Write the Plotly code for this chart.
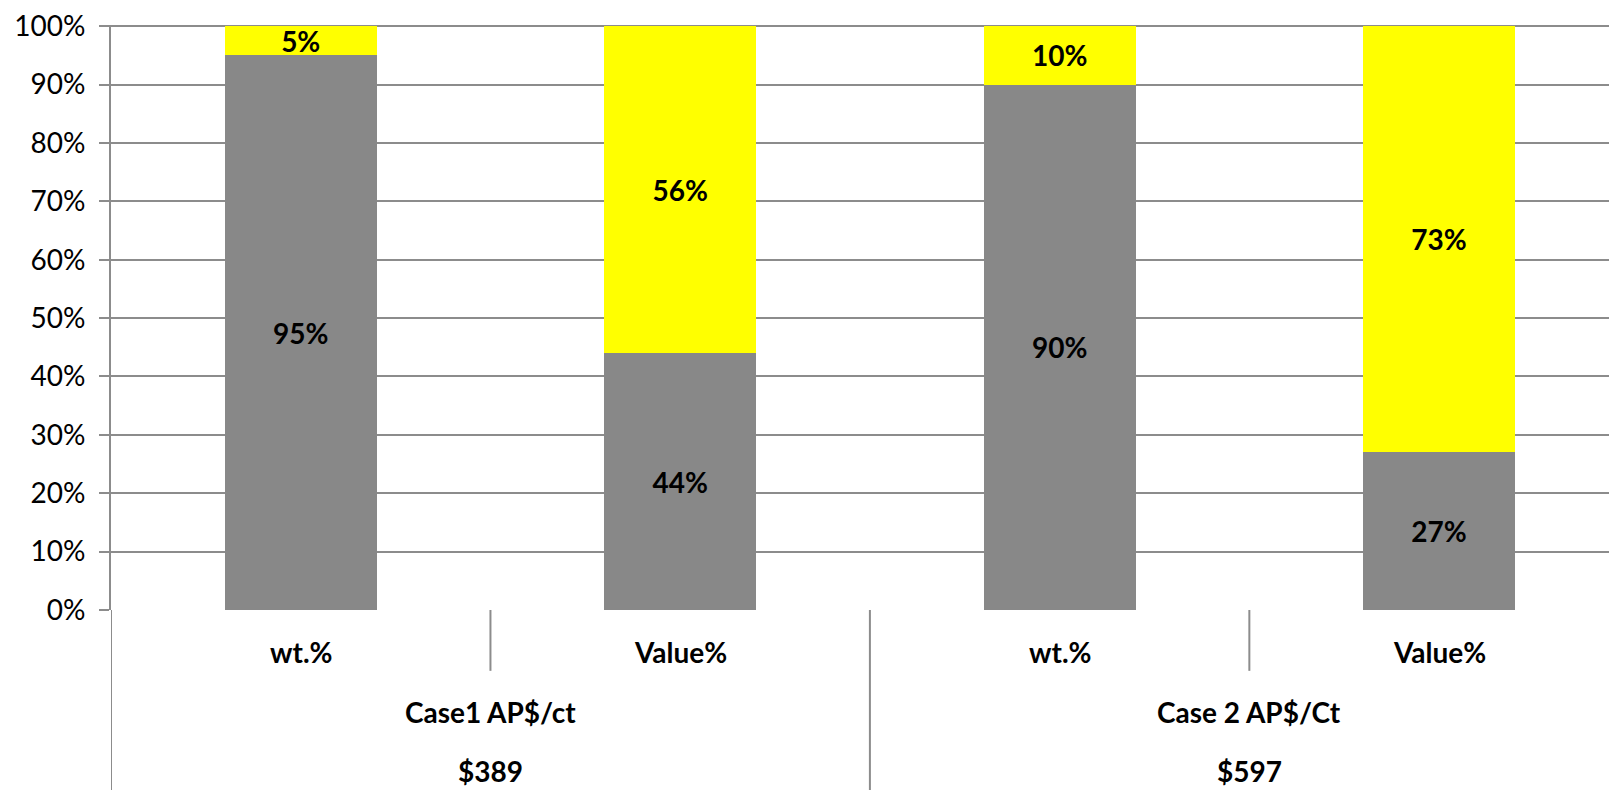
import plotly.graph_objects as go

cases = ["Case1 AP$/ct", "Case 2 AP$/Ct"]
case_prices = ["$389", "$597"]
subcats = ["wt.%", "Value%", "wt.%", "Value%"]
gray_vals = [95, 44, 90, 27]
yellow_vals = [5, 56, 10, 73]
ytick_vals = [0, 10, 20, 30, 40, 50, 60, 70, 80, 90, 100]
ytick_text = [f"{v}%" for v in ytick_vals]

FONT = "Lato"
GRID = "#8c8c8c"
SZ = 28
xs = list(range(len(subcats)))

fig = go.Figure()
fig.add_trace(go.Bar(
    x=xs, y=gray_vals, width=0.4, marker=dict(color="#888888", line=dict(width=0)),
    text=[f"<b>{v}%</b>" for v in gray_vals], textposition="inside",
    insidetextanchor="middle", textangle=0, constraintext="none",
    textfont=dict(family=FONT, size=SZ, color="black"), hoverinfo="skip",
))
fig.add_trace(go.Bar(
    x=xs, y=yellow_vals, width=0.4, marker=dict(color="#ffff00", line=dict(width=0)),
    text=[f"<b>{v}%</b>" for v in yellow_vals], textposition="inside",
    insidetextanchor="middle", textangle=0, constraintext="none",
    textfont=dict(family=FONT, size=SZ, color="black"), hoverinfo="skip",
))

n = len(subcats)
fig.update_layout(
    width=1617, height=790, barmode="stack", showlegend=False,
    margin=dict(l=103, r=0, t=14, b=188),
    paper_bgcolor="white", plot_bgcolor="white",
    font=dict(family=FONT, size=SZ, color="black"),
    xaxis=dict(range=[-0.5, 3.49], showticklabels=False, showgrid=False,
               zeroline=False, showline=False, ticks=""),
    yaxis=dict(range=[0, 100.2], tickmode="array", tickvals=ytick_vals, ticktext=ytick_text,
               showgrid=True, gridcolor=GRID, gridwidth=2, zeroline=False, showline=True,
               linecolor=GRID, linewidth=2, ticks="outside", ticklen=10,
               tickcolor=GRID, tickwidth=2, tickfont=dict(family=FONT, size=SZ),
               ticklabeloverflow="allow", ticklabelstandoff=8),
)

annotations = []
shapes = []
for i, s in enumerate(subcats):
    annotations.append(dict(x=xs[i], y=-0.071, xref="x", yref="paper", text=f"<b>{s}</b>",
                            showarrow=False, yanchor="middle", font=dict(family=FONT, size=SZ)))
for j, (c, p) in enumerate(zip(cases, case_prices)):
    cx = (xs[2 * j] + xs[2 * j + 1]) / 2
    annotations.append(dict(x=cx, y=-0.175, xref="x", yref="paper", text=f"<b>{c}</b>",
                            showarrow=False, yanchor="middle", font=dict(family=FONT, size=SZ)))
    annotations.append(dict(x=cx, y=-0.276, xref="x", yref="paper", text=f"<b>{p}</b>",
                            showarrow=False, yanchor="middle", font=dict(family=FONT, size=SZ)))
    shapes.append(dict(type="line", xref="x", yref="paper", x0=xs[2 * j] - 0.5, x1=xs[2 * j] - 0.5,
                       y0=0, y1=-0.33, line=dict(color=GRID, width=2)))
    shapes.append(dict(type="line", xref="x", yref="paper", x0=xs[2 * j] + 0.5, x1=xs[2 * j] + 0.5,
                       y0=0, y1=-0.104, line=dict(color=GRID, width=2)))

fig.update_layout(annotations=annotations, shapes=shapes)
fig.write_html("out.html")
